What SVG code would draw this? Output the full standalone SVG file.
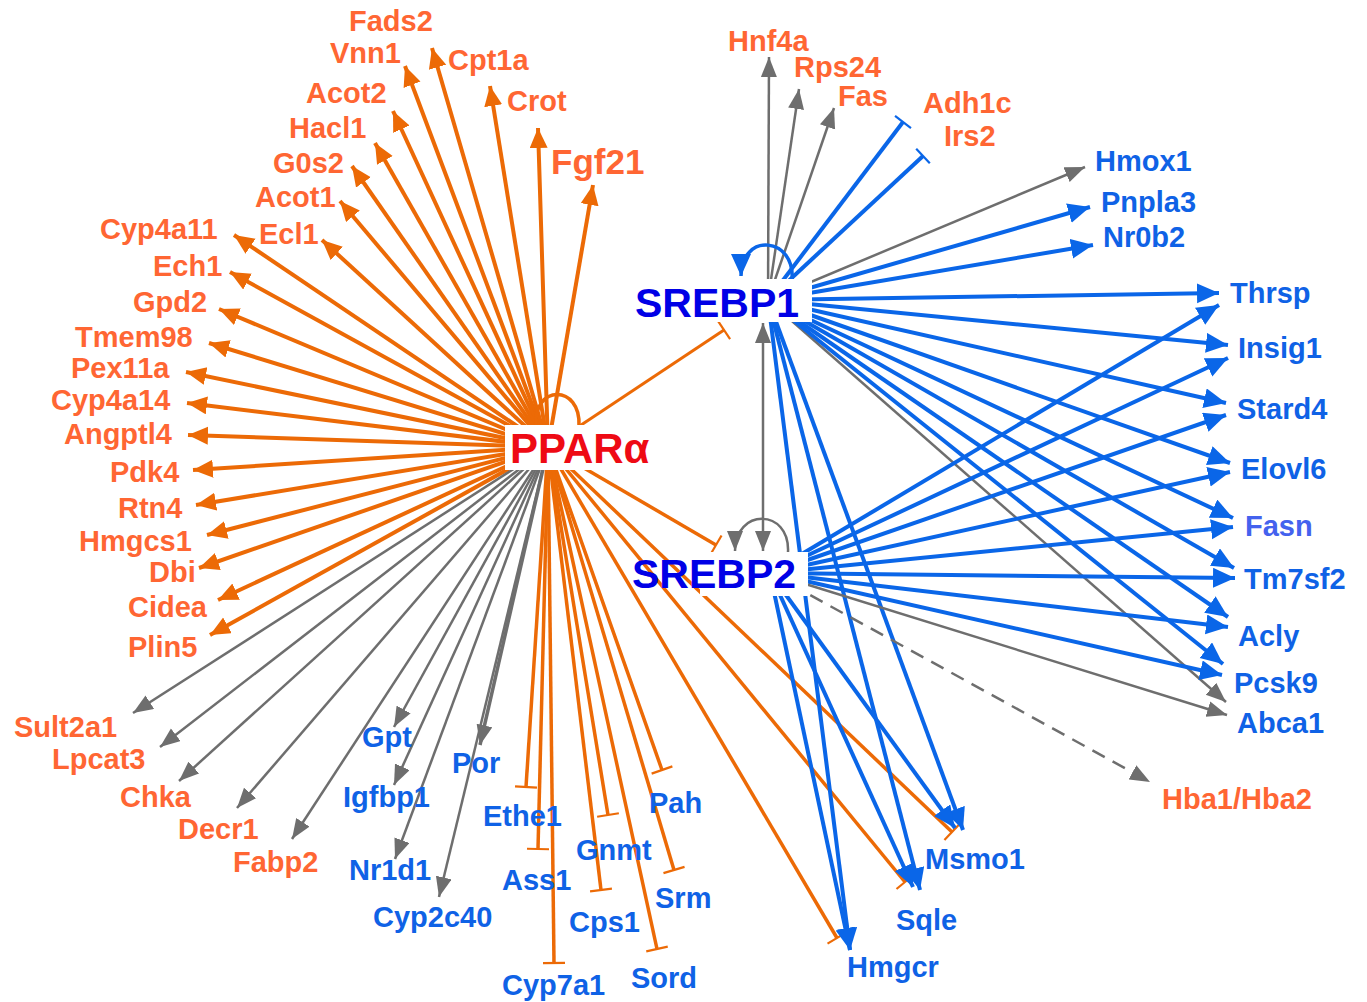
<svg xmlns="http://www.w3.org/2000/svg" width="1367" height="1002" viewBox="0 0 1367 1002">
<style>
text{font-family:"Liberation Sans",Arial,sans-serif;font-weight:bold;font-size:29px}
.lo{fill:#ff6633}
.lb{fill:#0f62e6}
.hub{font-size:41px;fill:#0000e6}
#connectors line,#connectors path{fill:none}
.oa{stroke:#ec6a06;stroke-width:4;marker-end:url(#ao)}
.oi{stroke:#ec6a06;stroke-width:3.5;marker-end:url(#to)}
.ga{stroke:#6e6e6e;stroke-width:2.5;marker-end:url(#ag)}
.ba{stroke:#0a66e8;stroke-width:4;marker-end:url(#ab)}
.bi{stroke:#0a66e8;stroke-width:4;marker-end:url(#tb)}
</style>
<defs>
<marker id="ao" markerUnits="userSpaceOnUse" markerWidth="21" markerHeight="19" refX="20" refY="9" orient="auto"><path d="M0,0 L20,9 L0,18 z" fill="#ec6a06"/></marker>
<marker id="ab" markerUnits="userSpaceOnUse" markerWidth="23" markerHeight="21" refX="22" refY="10" orient="auto"><path d="M0,0 L22,10 L0,20 z" fill="#0a66e8"/></marker>
<marker id="ag" markerUnits="userSpaceOnUse" markerWidth="21" markerHeight="17" refX="20" refY="8" orient="auto-start-reverse"><path d="M0,0 L20,8 L0,16 z" fill="#6e6e6e"/></marker>
<marker id="to" markerUnits="userSpaceOnUse" markerWidth="4" markerHeight="24" refX="2" refY="12" orient="auto"><path d="M2,1 L2,23" stroke="#ec6a06" stroke-width="2.2" fill="none"/></marker>
<marker id="tb" markerUnits="userSpaceOnUse" markerWidth="4" markerHeight="22" refX="2" refY="11" orient="auto"><path d="M2,1 L2,21" stroke="#0a66e8" stroke-width="2.2" fill="none"/></marker>
</defs>
<g id="connectors">
<!-- PPARa activations -->
<line class="oa" x1="548" y1="447" x2="405" y2="66"/>
<line class="oa" x1="548" y1="447" x2="432" y2="48"/>
<line class="oa" x1="548" y1="447" x2="490" y2="86"/>
<line class="oa" x1="548" y1="447" x2="538" y2="128"/>
<line class="oa" x1="548" y1="447" x2="593" y2="185"/>
<line class="oa" x1="548" y1="447" x2="393" y2="111"/>
<line class="oa" x1="548" y1="447" x2="375" y2="143"/>
<line class="oa" x1="548" y1="447" x2="352" y2="166"/>
<line class="oa" x1="548" y1="447" x2="340" y2="201"/>
<line class="oa" x1="548" y1="447" x2="322" y2="240"/>
<line class="oa" x1="548" y1="447" x2="234" y2="235"/>
<line class="oa" x1="548" y1="447" x2="230" y2="272"/>
<line class="oa" x1="548" y1="447" x2="219" y2="309"/>
<line class="oa" x1="548" y1="447" x2="209" y2="343"/>
<line class="oa" x1="548" y1="447" x2="186" y2="372"/>
<line class="oa" x1="548" y1="447" x2="187" y2="403"/>
<line class="oa" x1="548" y1="447" x2="188" y2="435"/>
<line class="oa" x1="548" y1="447" x2="193" y2="470"/>
<line class="oa" x1="548" y1="447" x2="196" y2="505"/>
<line class="oa" x1="548" y1="447" x2="207" y2="535"/>
<line class="oa" x1="548" y1="447" x2="199" y2="568"/>
<line class="oa" x1="548" y1="447" x2="218" y2="600"/>
<line class="oa" x1="548" y1="447" x2="210" y2="635"/>
<!-- PPARa gray -->
<line class="ga" x1="548" y1="447" x2="133" y2="713"/>
<line class="ga" x1="548" y1="447" x2="160" y2="747"/>
<line class="ga" x1="548" y1="447" x2="179" y2="781"/>
<line class="ga" x1="548" y1="447" x2="237" y2="808"/>
<line class="ga" x1="548" y1="447" x2="292" y2="839"/>
<line class="ga" x1="548" y1="447" x2="394" y2="727"/>
<line class="ga" x1="548" y1="447" x2="394" y2="785"/>
<line class="ga" x1="548" y1="447" x2="395" y2="859"/>
<line class="ga" x1="548" y1="447" x2="439" y2="897"/>
<line class="ga" x1="548" y1="447" x2="480" y2="745" style="stroke-width:3.5"/>
<!-- PPARa inhibitions -->
<line class="oi" x1="548" y1="447" x2="526" y2="787"/>
<line class="oi" x1="548" y1="447" x2="538" y2="849"/>
<line class="oi" x1="548" y1="447" x2="554" y2="963"/>
<line class="oi" x1="548" y1="447" x2="608" y2="815"/>
<line class="oi" x1="548" y1="447" x2="601" y2="890"/>
<line class="oi" x1="548" y1="447" x2="662" y2="770"/>
<line class="oi" x1="548" y1="447" x2="674" y2="870"/>
<line class="oi" x1="548" y1="447" x2="657" y2="949"/>
<line class="oi" x1="548" y1="447" x2="716" y2="545"/>
<line class="oi" x1="548" y1="447" x2="724" y2="330" style="stroke-width:3"/>
<line class="oi" x1="548" y1="447" x2="952" y2="832"/>
<line class="oi" x1="548" y1="447" x2="905" y2="882"/>
<line class="oi" x1="548" y1="447" x2="837" y2="938"/>
<path d="M536,426 C533,384 581,384 579,426" stroke="#ec6a06" stroke-width="3.5"/>
<!-- SREBP1 -->
<line class="ga" x1="768" y1="300" x2="769" y2="57"/>
<line class="ga" x1="768" y1="300" x2="799" y2="89"/>
<line class="ga" x1="768" y1="300" x2="834" y2="108"/>
<line class="ga" x1="768" y1="300" x2="1085" y2="167"/>
<line class="ga" x1="768" y1="300" x2="1226" y2="702"/>
<line class="bi" x1="768" y1="300" x2="903" y2="122"/>
<line class="bi" x1="768" y1="300" x2="923" y2="156"/>
<line class="ba" x1="768" y1="300" x2="1090" y2="207"/>
<line class="ba" x1="768" y1="300" x2="1093" y2="245"/>
<line class="ba" x1="768" y1="300" x2="1219" y2="293"/>
<line class="ba" x1="768" y1="300" x2="1228" y2="345"/>
<line class="ba" x1="768" y1="300" x2="1226" y2="403"/>
<line class="ba" x1="768" y1="300" x2="1230" y2="463"/>
<line class="ba" x1="768" y1="300" x2="1233" y2="518"/>
<line class="ba" x1="768" y1="300" x2="1234" y2="568"/>
<line class="ba" x1="768" y1="300" x2="1228" y2="617"/>
<line class="ba" x1="768" y1="300" x2="1223" y2="664"/>
<line class="ba" x1="768" y1="300" x2="963" y2="830"/>
<line class="ba" x1="768" y1="300" x2="920" y2="890"/>
<line class="ba" x1="768" y1="300" x2="850" y2="950"/>
<path d="M792,281 C796,236 741,232 741,276" stroke="#0a66e8" stroke-width="3.5" style="marker-end:url(#ab)"/>
<line class="ga" x1="763" y1="323" x2="763" y2="551" style="marker-start:url(#ag)"/>
<!-- SREBP2 -->
<line class="ba" x1="770" y1="573" x2="1219" y2="305"/>
<line class="ba" x1="770" y1="573" x2="1228" y2="358"/>
<line class="ba" x1="770" y1="573" x2="1226" y2="415"/>
<line class="ba" x1="770" y1="573" x2="1230" y2="472"/>
<line class="ba" x1="770" y1="573" x2="1233" y2="527"/>
<line class="ba" x1="770" y1="573" x2="1235" y2="578"/>
<line class="ba" x1="770" y1="573" x2="1228" y2="627"/>
<line class="ba" x1="770" y1="573" x2="1222" y2="675"/>
<line class="ba" x1="770" y1="573" x2="955" y2="828"/>
<line class="ba" x1="770" y1="573" x2="913" y2="887"/>
<line class="ba" x1="770" y1="573" x2="850" y2="950"/>
<line class="ga" x1="770" y1="573" x2="1227" y2="715"/>
<line class="ga" x1="770" y1="573" x2="1150" y2="782" style="stroke-dasharray:14 9"/>
<path d="M788,552 C790,508 735,508 735,551" stroke="#6e6e6e" stroke-width="2.5" style="marker-end:url(#ag)"/>
</g>
<g id="n-PPARa"><rect x="505" y="425" width="150" height="45" fill="#fff"/><text x="510" y="463" style="font-size:42px;fill:#ee0a14">PPARα</text></g>
<g id="n-SREBP1"><rect x="628" y="279" width="184" height="43" fill="#fff"/><text class="hub" x="635" y="317">SREBP1</text></g>
<g id="n-SREBP2"><rect x="700" y="552" width="108" height="44" fill="#fff"/><text class="hub" x="632" y="588">SREBP2</text></g>
<g id="n-Fads2"><text class="lo" x="349" y="31">Fads2</text></g>
<g id="n-Vnn1"><text class="lo" x="330" y="63">Vnn1</text></g>
<g id="n-Cpt1a"><text class="lo" x="448" y="70">Cpt1a</text></g>
<g id="n-Crot"><text class="lo" x="507" y="111">Crot</text></g>
<g id="n-Fgf21"><text class="lo" x="551" y="174" style="font-size:35px">Fgf21</text></g>
<g id="n-Acot2"><text class="lo" x="306" y="103">Acot2</text></g>
<g id="n-Hacl1"><text class="lo" x="289" y="138">Hacl1</text></g>
<g id="n-G0s2"><text class="lo" x="273" y="173">G0s2</text></g>
<g id="n-Acot1"><text class="lo" x="255" y="207">Acot1</text></g>
<g id="n-Ecl1"><text class="lo" x="259" y="244">Ecl1</text></g>
<g id="n-Cyp4a11"><text class="lo" x="100" y="239">Cyp4a11</text></g>
<g id="n-Ech1"><text class="lo" x="153" y="276">Ech1</text></g>
<g id="n-Gpd2"><text class="lo" x="133" y="312">Gpd2</text></g>
<g id="n-Tmem98"><text class="lo" x="75" y="347">Tmem98</text></g>
<g id="n-Pex11a"><text class="lo" x="71" y="378">Pex11a</text></g>
<g id="n-Cyp4a14"><text class="lo" x="51" y="410">Cyp4a14</text></g>
<g id="n-Angptl4"><text class="lo" x="64" y="444">Angptl4</text></g>
<g id="n-Pdk4"><text class="lo" x="110" y="482">Pdk4</text></g>
<g id="n-Rtn4"><text class="lo" x="118" y="518">Rtn4</text></g>
<g id="n-Hmgcs1"><text class="lo" x="79" y="551">Hmgcs1</text></g>
<g id="n-Dbi"><text class="lo" x="149" y="582">Dbi</text></g>
<g id="n-Cidea"><text class="lo" x="128" y="617">Cidea</text></g>
<g id="n-Plin5"><text class="lo" x="128" y="657">Plin5</text></g>
<g id="n-Sult2a1"><text class="lo" x="14" y="737">Sult2a1</text></g>
<g id="n-Lpcat3"><text class="lo" x="52" y="769">Lpcat3</text></g>
<g id="n-Chka"><text class="lo" x="120" y="807">Chka</text></g>
<g id="n-Decr1"><text class="lo" x="178" y="839">Decr1</text></g>
<g id="n-Fabp2"><text class="lo" x="233" y="872">Fabp2</text></g>
<g id="n-Gpt"><text class="lb" x="362" y="747">Gpt</text></g>
<g id="n-Igfbp1"><text class="lb" x="343" y="807">Igfbp1</text></g>
<g id="n-Nr1d1"><text class="lb" x="349" y="880">Nr1d1</text></g>
<g id="n-Cyp2c40"><text class="lb" x="373" y="927">Cyp2c40</text></g>
<g id="n-Por"><text class="lb" x="452" y="773">Por</text></g>
<g id="n-Ethe1"><text class="lb" x="483" y="826">Ethe1</text></g>
<g id="n-Ass1"><text class="lb" x="502" y="890">Ass1</text></g>
<g id="n-Cyp7a1"><text class="lb" x="502" y="995">Cyp7a1</text></g>
<g id="n-Gnmt"><text class="lb" x="576" y="860">Gnmt</text></g>
<g id="n-Cps1"><text class="lb" x="569" y="932">Cps1</text></g>
<g id="n-Pah"><text class="lb" x="649" y="813">Pah</text></g>
<g id="n-Srm"><text class="lb" x="655" y="908">Srm</text></g>
<g id="n-Sord"><text class="lb" x="631" y="988">Sord</text></g>
<g id="n-Hmgcr"><text class="lb" x="847" y="977">Hmgcr</text></g>
<g id="n-Sqle"><text class="lb" x="896" y="930">Sqle</text></g>
<g id="n-Msmo1"><text class="lb" x="925" y="869">Msmo1</text></g>
<g id="n-Hba"><text class="lo" x="1162" y="809">Hba1/Hba2</text></g>
<g id="n-Abca1"><text class="lb" x="1237" y="733">Abca1</text></g>
<g id="n-Pcsk9"><text class="lb" x="1234" y="693">Pcsk9</text></g>
<g id="n-Acly"><text class="lb" x="1238" y="646">Acly</text></g>
<g id="n-Tm7sf2"><text class="lb" x="1244" y="589">Tm7sf2</text></g>
<g id="n-Fasn"><text class="lb" x="1245" y="536" style="fill:#4462ee">Fasn</text></g>
<g id="n-Elovl6"><text class="lb" x="1241" y="479">Elovl6</text></g>
<g id="n-Stard4"><text class="lb" x="1237" y="419">Stard4</text></g>
<g id="n-Insig1"><text class="lb" x="1238" y="358">Insig1</text></g>
<g id="n-Thrsp"><text class="lb" x="1230" y="303">Thrsp</text></g>
<g id="n-Nr0b2"><text class="lb" x="1103" y="247">Nr0b2</text></g>
<g id="n-Pnpla3"><text class="lb" x="1101" y="212">Pnpla3</text></g>
<g id="n-Hmox1"><text class="lb" x="1095" y="171">Hmox1</text></g>
<g id="n-Irs2"><text class="lo" x="944" y="146">Irs2</text></g>
<g id="n-Adh1c"><text class="lo" x="923" y="113">Adh1c</text></g>
<g id="n-Fas"><text class="lo" x="838" y="106">Fas</text></g>
<g id="n-Rps24"><text class="lo" x="794" y="77">Rps24</text></g>
<g id="n-Hnf4a"><text class="lo" x="728" y="51">Hnf4a</text></g>
</svg>
